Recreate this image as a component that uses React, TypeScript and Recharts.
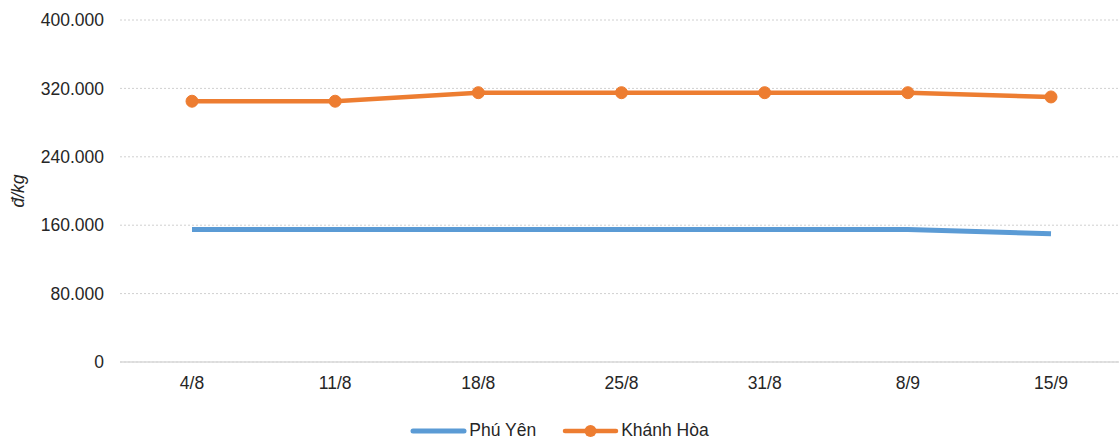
import React from 'react';
import { LineChart, Line, XAxis, YAxis, CartesianGrid, Legend } from 'recharts';

const categories = ['4/8', '11/8', '18/8', '25/8', '31/8', '8/9', '15/9'];
const phuYen = [155000, 155000, 155000, 155000, 155000, 155000, 150000];
const khanhHoa = [305000, 305000, 315000, 315000, 315000, 315000, 310000];
const yTicks = [0, 80000, 160000, 240000, 320000, 400000];

const data = categories.map((c, i) => ({ name: c, phuYen: phuYen[i], khanhHoa: khanhHoa[i] }));

const BLUE = '#5B9BD5';
const ORANGE = '#ED7D31';
const FONT = '"Liberation Sans", Arial, sans-serif';
const TEXT = '#262626';
const FS = 17.5;

const fmt = (v: number) => (v === 0 ? '0' : v.toLocaleString('de-DE'));

const LegendContent = () => (
  <div style={{ display: 'flex', justifyContent: 'center', alignItems: 'center', paddingTop: 21, fontFamily: FONT, fontSize: FS, color: TEXT }}>
    <svg width={57} height={12} style={{ marginRight: 2 }}>
      <line x1={3} y1={6} x2={54} y2={6} stroke={BLUE} strokeWidth={5} strokeLinecap="round" />
    </svg>
    <span style={{ marginRight: 26 }}>Phú Yên</span>
    <svg width={57} height={14} style={{ marginRight: 2 }}>
      <line x1={3} y1={7} x2={54} y2={7} stroke={ORANGE} strokeWidth={4.5} strokeLinecap="round" />
      <circle cx={28.5} cy={7} r={6} fill={ORANGE} />
    </svg>
    <span>Khánh Hòa</span>
  </div>
);

export default function App() {
  return (
    <div style={{ position: 'absolute', left: 0, top: 0, width: 1119, height: 439, background: '#fff' }}>
      <LineChart width={1119} height={439} data={data} margin={{ top: 20, right: 0, left: 0, bottom: 0 }}>
        <CartesianGrid vertical={false} stroke="#d0d0d0" strokeDasharray="2 2" />
        <XAxis
          dataKey="name"
          height={37}
          padding={{ left: 72, right: 68 }}
          tickLine={false}
          tickSize={0}
          tickMargin={15}
          axisLine={{ stroke: '#d9d9d9', strokeWidth: 1.5 }}
          tick={{ fill: TEXT, fontSize: FS, fontFamily: FONT }}
        />
        <YAxis
          width={120}
          domain={[0, 400000]}
          ticks={yTicks}
          tickFormatter={fmt}
          axisLine={false}
          tickLine={false}
          tickSize={0}
          tickMargin={16}
          tick={{ fill: TEXT, fontSize: FS, fontFamily: FONT }}
          label={{ value: 'đ/kg', angle: -90, position: 'center', dx: -42, style: { fontStyle: 'italic', fontSize: FS, fontFamily: FONT, fill: TEXT } }}
        />
        <Legend verticalAlign="bottom" height={40} content={<LegendContent />} />
        <Line dataKey="phuYen" name="Phú Yên" stroke={BLUE} strokeWidth={5} dot={false} isAnimationActive={false} />
        <Line dataKey="khanhHoa" name="Khánh Hòa" stroke={ORANGE} strokeWidth={4.5} dot={{ r: 6, fill: ORANGE, stroke: ORANGE, strokeWidth: 1 }} isAnimationActive={false} />
      </LineChart>
    </div>
  );
}
